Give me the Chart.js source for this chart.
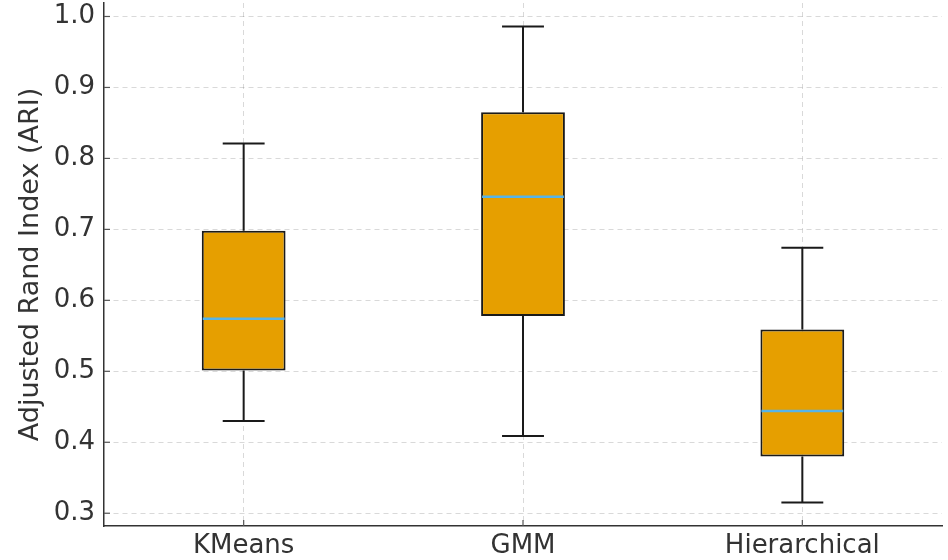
<!DOCTYPE html>
<html lang="en">
<head>
  <meta charset="UTF-8">
  <title>Adjusted Rand Index</title>
  <script src="https://cdn.jsdelivr.net/npm/chart.js"></script>
  <style>
    html, body {
      margin: 0;
      padding: 0;
      background: #fff;
    }
    .wrap {
      width: 948px;
      height: 560px;
    }
  </style>
</head>
<body>
  <div class="wrap"><canvas id="boxChart" width="948" height="560"></canvas></div>

<script>
    // box plot summary
    const categories = ['KMeans', 'GMM', 'Hierarchical'];
    const whiskerLow = [0.430, 0.409, 0.315];
    const q1 = [0.501, 0.578, 0.380];
    const median = [0.574, 0.746, 0.444];
    const q3 = [0.698, 0.865, 0.559];
    const whiskerHigh = [0.821, 0.986, 0.674];
    const yTicks = [0.3, 0.4, 0.5, 0.6, 0.7, 0.8, 0.9, 1.0];

    const FONT = 'DejaVu Sans';
    const TEXT = '#333333';
    const GRID = 'rgba(0,0,0,0.15)';

    // whiskers, caps, median lines and small inward ticks, placed through the chart scales
    const boxExtras = {
      id: 'boxExtras',
      afterDatasetsDraw(chart) {
        const { ctx, chartArea, scales: { x, y } } = chart;
        const meta = chart.getDatasetMeta(0);
        ctx.save();
        categories.forEach((c, i) => {
          const bar = meta.data[i];
          const cx = x.getPixelForValue(i);
          const half = bar.width / 2;
          const cap = half / 2;

          ctx.strokeStyle = '#1a1a1a';
          ctx.lineWidth = 2;
          ctx.beginPath();
          ctx.moveTo(cx, y.getPixelForValue(q3[i]));
          ctx.lineTo(cx, y.getPixelForValue(whiskerHigh[i]));
          ctx.moveTo(cx, y.getPixelForValue(q1[i]));
          ctx.lineTo(cx, y.getPixelForValue(whiskerLow[i]));
          ctx.moveTo(cx - cap, y.getPixelForValue(whiskerHigh[i]));
          ctx.lineTo(cx + cap, y.getPixelForValue(whiskerHigh[i]));
          ctx.moveTo(cx - cap, y.getPixelForValue(whiskerLow[i]));
          ctx.lineTo(cx + cap, y.getPixelForValue(whiskerLow[i]));
          ctx.stroke();

          ctx.strokeStyle = '#56B4E9';
          ctx.lineWidth = 2.5;
          ctx.beginPath();
          ctx.moveTo(cx - half + 1, y.getPixelForValue(median[i]));
          ctx.lineTo(cx + half - 1, y.getPixelForValue(median[i]));
          ctx.stroke();

          // inward tick on the bottom axis
          ctx.strokeStyle = '#555';
          ctx.lineWidth = 1.2;
          ctx.beginPath();
          ctx.moveTo(cx, chartArea.bottom);
          ctx.lineTo(cx, chartArea.bottom - 6);
          ctx.stroke();
        });
        yTicks.forEach(v => {
          const py = y.getPixelForValue(v);
          ctx.strokeStyle = '#555';
          ctx.lineWidth = 1.2;
          ctx.beginPath();
          ctx.moveTo(chartArea.left, py);
          ctx.lineTo(chartArea.left + 6, py);
          ctx.stroke();
        });
        ctx.restore();
      }
    };

    new Chart(document.getElementById('boxChart').getContext('2d'), {
      type: 'bar',
      data: {
        labels: categories,
        datasets: [{
          data: categories.map((c, i) => [q1[i], q3[i]]),
          backgroundColor: '#E69F00',
          borderColor: '#1a1a1a',
          borderWidth: 2,
          borderSkipped: false,
          barPercentage: 0.3,
          categoryPercentage: 1.0
        }]
      },
      options: {
        responsive: false,
        animation: false,
        layout: { padding: { top: 3, right: 6, left: 0, bottom: 0 } },
        plugins: {
          legend: { display: false },
          tooltip: { enabled: false }
        },
        scales: {
          x: {
            offset: true,
            grid: {
              offset: false,
              drawTicks: false,
              color: GRID,
              lineWidth: 1
            },
            border: { display: true, color: '#333', width: 1.5, dash: [5, 4] },
            ticks: {
              color: TEXT,
              font: { family: FONT, size: 26 },
              padding: 5,
              maxRotation: 0
            },
            afterFit(scale) {
              scale.height = 34;
              scale.paddingLeft = 0;
              scale.paddingRight = 0;
            }
          },
          y: {
            min: 0.282,
            max: 1.019,
            afterBuildTicks(scale) {
              scale.ticks = yTicks.map(v => ({ value: v }));
            },
            grid: {
              drawTicks: false,
              color: GRID,
              lineWidth: 1
            },
            border: { display: true, color: '#333', width: 1.5, dash: [5, 4] },
            ticks: {
              color: TEXT,
              font: { family: FONT, size: 26 },
              padding: 9,
              callback: v => v.toFixed(1)
            },
            title: {
              display: true,
              text: 'Adjusted Rand Index (ARI)',
              color: TEXT,
              font: { family: FONT, size: 27 },
              padding: { top: 15, bottom: 0 }
            },
            afterFit(scale) {
              scale.width = 104;
              scale.paddingTop = 0;
              scale.paddingBottom = 0;
            }
          }
        }
      },
      plugins: [boxExtras]
    });
</script>
</body>
</html>
